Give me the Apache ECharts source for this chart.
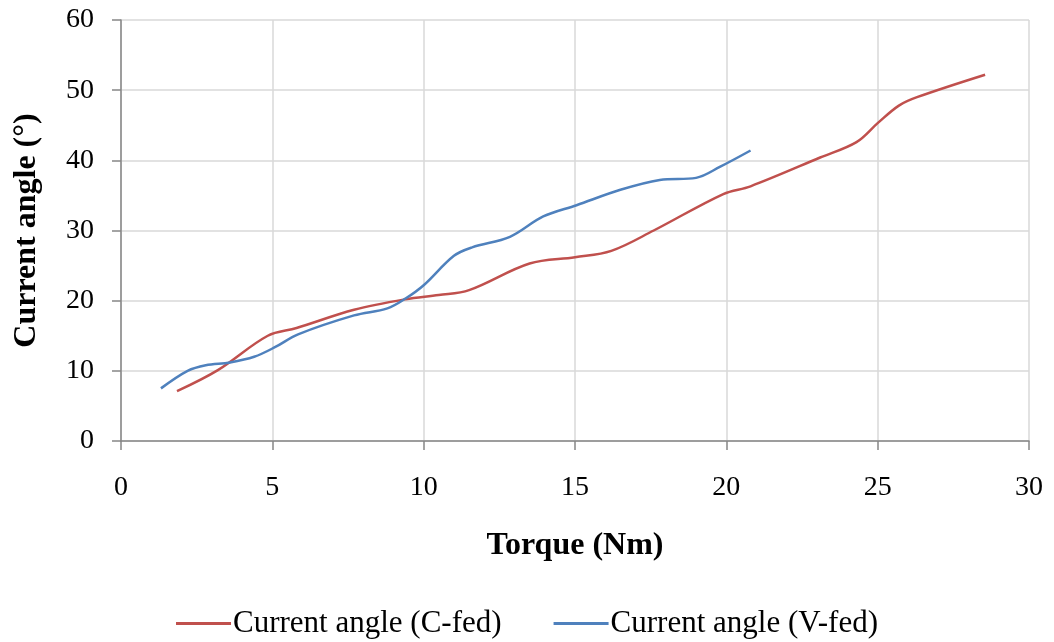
<!DOCTYPE html>
<html>
<head>
<meta charset="utf-8">
<script src="https://cdn.jsdelivr.net/npm/echarts@6/dist/echarts.min.js"></script>
<style>
  html, body { margin: 0; padding: 0; background: #fff; }
  #chart { width: 1054px; height: 642px; }
</style>
</head>
<body>
<div id="chart"></div>
<script>
// 读图得到的数据点 [torque, angle]
const cFed = [
  [1.85, 7.1], [3.2, 10.1], [4.85, 15.0], [5.8, 16.1], [7.7, 18.7], [9.4, 20.2],
  [10.5, 20.8], [11.5, 21.5], [13.5, 25.3], [15.0, 26.2], [16.2, 27.1], [17.6, 30.0],
  [19.9, 35.2], [20.8, 36.3], [23.1, 40.4], [24.3, 42.6], [25.0, 45.3], [25.7, 47.8],
  [26.3, 49.0], [28.55, 52.2]
];
const vFed = [
  [1.32, 7.5], [2.2, 10.0], [2.8, 10.8], [3.6, 11.2], [4.4, 12.0], [5.1, 13.4],
  [5.85, 15.2], [7.7, 17.9], [8.8, 18.9], [9.4, 20.3], [10.0, 22.2], [11.0, 26.4],
  [11.6, 27.6], [12.85, 29.1], [13.95, 32.0], [15.05, 33.6], [16.5, 35.8], [17.8, 37.2],
  [19.0, 37.5], [19.8, 39.1], [20.8, 41.4]
];
const seriesNames = ['Current angle (C-fed)', 'Current angle (V-fed)'];
const xTitle = 'Torque (Nm)';
const yTitle = 'Current angle (°)';

const chart = echarts.init(document.getElementById('chart'));
const font = '"Liberation Serif", "Times New Roman", serif';
const axisGray = '#868686';
const gridGray = '#d9d9d9';

const option = {
  animation: false,
  textStyle: { fontFamily: font },
  grid: { left: 121, right: 25, top: 20, bottom: 201 },
  legend: {
    bottom: -2,
    left: 'center',
    itemWidth: 55,
    itemHeight: 3,
    itemGap: 52,
    icon: 'rect',
    textStyle: { fontFamily: font, fontSize: 31, color: '#000', padding: [0, 0, 0, -3] },
    data: seriesNames
  },
  xAxis: {
    type: 'value',
    min: 0, max: 30, interval: 5,
    name: xTitle,
    nameLocation: 'middle',
    nameGap: 89,
    nameTextStyle: { fontFamily: font, fontSize: 32, fontWeight: 'bold', color: '#000' },
    axisLine: { show: true, lineStyle: { color: axisGray, width: 1.5 } },
    axisTick: { show: true, length: 9, lineStyle: { color: axisGray, width: 1.5 } },
    axisLabel: { fontFamily: font, fontSize: 28, color: '#000', margin: 33 },
    splitLine: { show: true, lineStyle: { color: gridGray, width: 1.5 } }
  },
  yAxis: {
    type: 'value',
    min: 0, max: 60, interval: 10,
    name: yTitle,
    nameLocation: 'middle',
    nameGap: 78,
    nameRotate: 90,
    nameTextStyle: { fontFamily: font, fontSize: 32, fontWeight: 'bold', color: '#000' },
    axisLine: { show: true, lineStyle: { color: axisGray, width: 1.5 } },
    axisTick: { show: true, length: 9, lineStyle: { color: axisGray, width: 1.5 } },
    axisLabel: { fontFamily: font, fontSize: 28, color: '#000', margin: 27 },
    splitLine: { show: true, lineStyle: { color: gridGray, width: 1.5 } }
  },
  series: [
    {
      name: seriesNames[0],
      type: 'line',
      data: cFed,
      smooth: 0.35,
      showSymbol: false,
      lineStyle: { color: '#C0504D', width: 2.5 },
      itemStyle: { color: '#C0504D' }
    },
    {
      name: seriesNames[1],
      type: 'line',
      data: vFed,
      smooth: 0.35,
      showSymbol: false,
      lineStyle: { color: '#4F81BD', width: 2.5 },
      itemStyle: { color: '#4F81BD' }
    }
  ]
};
chart.setOption(option);
</script>
</body>
</html>
